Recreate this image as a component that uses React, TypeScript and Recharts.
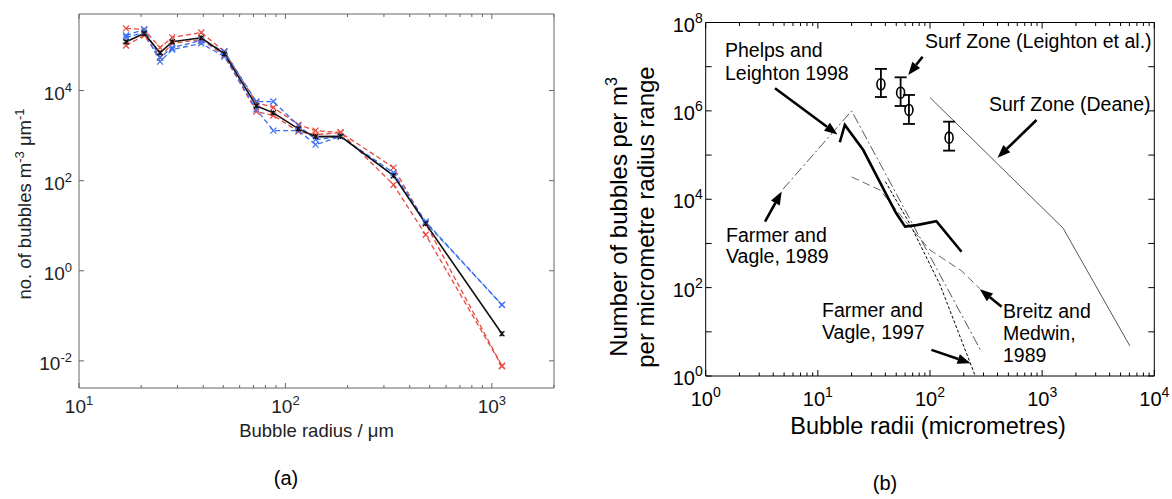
import { ComposedChart, LineChart, Line, Scatter, XAxis, YAxis, ErrorBar, ReferenceLine } from 'recharts';

const FONT = "'Liberation Sans', Arial, Helvetica, sans-serif";

// ---- (a) measured spectra ----
const radiusA = [16.9, 20.7, 24.7, 28.3, 39.1, 50.6, 72.3, 87.4, 115.6, 140, 185, 334, 478, 1119];
const meanA = [1.21e5, 1.85e5, 6.9e4, 1.21e5, 1.48e5, 6.5e4, 4.6e3, 3.2e3, 1.41e3, 950, 960, 129, 11.1, 0.04];
const redHi = [2.39e5, 2.27e5, 9.0e4, 1.51e5, 1.94e5, 7.36e4, 5.4e3, 4.2e3, 1.75e3, 1.29e3, 1.17e3, 195, 11.1, 0.0077];
const redLo = [1.0e5, 1.67e5, 5.4e4, 1.11e5, 1.36e5, 6.0e4, 3.4e3, 2.8e3, 1.23e3, 1.05e3, 1.17e3, 81, 6.3, 0.0077];
const blueHi = [1.67e5, 2.27e5, 5.4e4, 9.0e4, 1.29e5, 7.36e4, 5.7e3, 5.7e3, 1.67e3, 815, 950, 150, 12.3, 0.175];
const blueLo = [1.51e5, 1.94e5, 4.4e4, 8.15e4, 1.11e5, 5.7e4, 3.8e3, 1.29e3, 1.29e3, 630, 950, 129, 11.7, 0.175];

const xTicksA = [10, 20, 30, 40, 50, 60, 70, 80, 90, 100, 200, 300, 400, 500, 600, 700, 800, 900, 1000, 2000];
const yTicksA = [0.01, 1, 100, 10000];

// ---- (b) literature spectra ----
const fv89X = [4.9, 20, 280];
const fv89Y = [1.7e4, 1e6, 4];
const phelpsX = [15.7, 17.4, 25.4, 44, 50, 60, 76, 114, 191];
const phelpsY = [1.95e5, 4.8e5, 1.3e5, 8.8e3, 4.8e3, 2.4e3, 2.6e3, 3.2e3, 650];
const breitzX = [20, 36, 66, 100, 191, 278];
const breitzY = [3.2e4, 1.6e4, 2.4e3, 710, 240, 95];
const fv97X = [40, 66, 123, 251];
const fv97Y = [2.5e4, 2.8e3, 115, 1.06];
const deaneX = [100, 1540, 6050];
const deaneY = [2e6, 2.2e3, 4.8];
const leightonX = [36.5, 54.7, 64.9, 148];
const leightonY = [4.0e6, 2.58e6, 1.05e6, 2.48e5];
const leightonLo = [2.06e6, 1.29e6, 5.06e5, 1.26e5];
const leightonHi = [8.9e6, 5.75e6, 2.29e6, 5.7e5];

const xTicksB = [1, 2, 3, 4, 5, 6, 7, 8, 9, 10, 20, 30, 40, 50, 60, 70, 80, 90, 100, 200, 300, 400, 500, 600, 700, 800, 900,
  1000, 2000, 3000, 4000, 5000, 6000, 7000, 8000, 9000, 10000];
const yTicksB = [1, 10, 100, 1e3, 1e4, 1e5, 1e6, 1e7, 1e8];

// annotation arrows (data units): tail -> head
const arrowTails = [[4.15, 3.24e6], [85.9, 1.68e7], [891, 6.2e5], [3.38, 3.1e3], [103, 3.9], [435, 37]];
const arrowHeads = [[14.95, 2.92e5], [63.9, 6.49e6], [400, 8.7e4], [4.76, 1.49e4], [230, 1.95], [278, 92]];

const pts = (xs: number[], ys: number[]) => xs.map((x, i) => ({ x, y: ys[i] }));

type TickStyle = {
  side: 'bottom' | 'left' | 'top' | 'right';
  majorLen: number;
  minorLen: number;
  labels: boolean;
  every: number;
  font: number;
  sup: number;
  supDy: number;
  dx: number;
  dy: number;
  stroke: string;
  color: string;
};

const renderTick = (p: any, s: TickStyle) => {
  const { x, y, payload } = p;
  const v = payload.value as number;
  const lg = Math.log10(v);
  const e = Math.round(lg);
  const decade = Math.abs(lg - e) < 1e-6;
  const len = decade ? s.majorLen : s.minorLen;
  let x2 = x;
  let y2 = y;
  if (s.side === 'bottom') y2 = y - len;
  else if (s.side === 'top') y2 = y + len;
  else if (s.side === 'left') x2 = x + len;
  else x2 = x - len;
  const show = s.labels && decade && e % s.every === 0;
  return (
    <g>
      <line x1={x} y1={y} x2={x2} y2={y2} stroke={s.stroke} strokeWidth={1} />
      {show && (
        <text x={x + s.dx} y={y + s.dy} textAnchor={s.side === 'left' ? 'end' : 'middle'} fontSize={s.font}
          fontFamily={FONT} fill={s.color}>
          10<tspan dy={-s.supDy} fontSize={s.sup}>{e}</tspan>
        </text>
      )}
    </g>
  );
};

const crossDot = (color: string, r: number, star = false) => (p: any) => {
  const { cx, cy, index } = p;
  if (cx == null || cy == null) return <g key={index} />;
  let d = `M${cx - r},${cy - r}L${cx + r},${cy + r}M${cx - r},${cy + r}L${cx + r},${cy - r}`;
  if (star) d += `M${cx},${cy - r}L${cx},${cy + r}`;
  return <path key={index} d={d} stroke={color} strokeWidth={1.2} fill="none" />;
};

const arrowShape = (p: any) => {
  const { x1, y1, x2, y2 } = p;
  const a = Math.atan2(y2 - y1, x2 - x1);
  const L = 13;
  const W = 5;
  const bx = x2 - L * Math.cos(a);
  const by = y2 - L * Math.sin(a);
  const px = -Math.sin(a) * W;
  const py = Math.cos(a) * W;
  return (
    <g>
      <line x1={x1} y1={y1} x2={bx} y2={by} stroke="#000" strokeWidth={2.6} />
      <polygon points={`${x2},${y2} ${bx + px},${by + py} ${bx - px},${by - py}`} fill="#000" />
    </g>
  );
};

const AX_A = '#666';
const RED = '#e8493e';
const BLUE = '#3a6ef2';

function ChartA() {
  const base = { majorLen: 5, minorLen: 3, font: 19, sup: 13, supDy: 8, stroke: AX_A, color: '#222' };
  return (
    <LineChart width={600} height={499} margin={{ top: 13, right: 45, bottom: 71, left: 19 }}>
      <XAxis dataKey="x" type="number" scale="log" domain={[10, 2000]} allowDataOverflow ticks={xTicksA}
        interval={0} tickSize={0} tickMargin={0} height={40} axisLine={{ stroke: AX_A }} tickLine={false}
        tick={(p: any) => renderTick(p, { ...base, side: 'bottom', labels: true, every: 1, dx: 0, dy: 25 })} />
      <XAxis xAxisId="top" orientation="top" dataKey="x" type="number" scale="log" domain={[10, 2000]}
        allowDataOverflow ticks={xTicksA} interval={0} tickSize={0} tickMargin={0} height={1}
        axisLine={{ stroke: AX_A }} tickLine={false}
        tick={(p: any) => renderTick(p, { ...base, side: 'top', labels: false, every: 1, dx: 0, dy: 0 })} />
      <YAxis type="number" scale="log" domain={[0.0025, 5e5]} allowDataOverflow ticks={yTicksA} interval={0}
        tickSize={0} tickMargin={0} width={60} axisLine={{ stroke: AX_A }} tickLine={false}
        tick={(p: any) => renderTick(p, { ...base, side: 'left', labels: true, every: 1, dx: -7, dy: 9 })} />
      <YAxis yAxisId="right" orientation="right" type="number" scale="log" domain={[0.0025, 5e5]}
        allowDataOverflow ticks={yTicksA} interval={0} tickSize={0} tickMargin={0} width={1}
        axisLine={{ stroke: AX_A }} tickLine={false}
        tick={(p: any) => renderTick(p, { ...base, side: 'right', labels: false, every: 1, dx: 0, dy: 0 })} />
      <Line data={pts(radiusA, redHi)} dataKey="y" stroke={RED} strokeWidth={1.3} strokeDasharray="5 3"
        dot={crossDot(RED, 3)} isAnimationActive={false} />
      <Line data={pts(radiusA, redLo)} dataKey="y" stroke={RED} strokeWidth={1.3} strokeDasharray="5 3"
        dot={crossDot(RED, 3)} isAnimationActive={false} />
      <Line data={pts(radiusA, blueHi)} dataKey="y" stroke={BLUE} strokeWidth={1.3} strokeDasharray="5 3"
        dot={crossDot(BLUE, 3)} isAnimationActive={false} />
      <Line data={pts(radiusA, blueLo)} dataKey="y" stroke={BLUE} strokeWidth={1.3} strokeDasharray="5 3"
        dot={crossDot(BLUE, 3)} isAnimationActive={false} />
      <Line data={pts(radiusA, meanA)} dataKey="y" stroke="#111" strokeWidth={1.6} dot={crossDot('#111', 2.5, true)}
        isAnimationActive={false} />
    </LineChart>
  );
}

function ChartB() {
  const base = { majorLen: 6, minorLen: 3.5, font: 20, sup: 14, supDy: 9, stroke: '#000', color: '#000' };
  const leighton = leightonX.map((x, i) => ({
    x,
    y: leightonY[i],
    err: [leightonY[i] - leightonLo[i], leightonHi[i] - leightonY[i]],
  }));
  return (
    <ComposedChart width={572} height={499} margin={{ top: 21.5, right: 16.7, bottom: 83, left: 25.7 }}>
      <XAxis dataKey="x" type="number" scale="log" domain={[1, 10000]} allowDataOverflow ticks={xTicksB}
        interval={0} tickSize={0} tickMargin={0} height={40} axisLine={{ stroke: '#000' }} tickLine={false}
        tick={(p: any) => renderTick(p, { ...base, side: 'bottom', labels: true, every: 1, dx: 0, dy: 30 })} />
      <XAxis xAxisId="top" orientation="top" dataKey="x" type="number" scale="log" domain={[1, 10000]}
        allowDataOverflow ticks={xTicksB} interval={0} tickSize={0} tickMargin={0} height={1}
        axisLine={{ stroke: '#000' }} tickLine={false}
        tick={(p: any) => renderTick(p, { ...base, side: 'top', labels: false, every: 1, dx: 0, dy: 0 })} />
      <YAxis type="number" scale="log" domain={[1, 1e8]} allowDataOverflow ticks={yTicksB} interval={0}
        tickSize={0} tickMargin={0} width={80} axisLine={{ stroke: '#000' }} tickLine={false}
        tick={(p: any) => renderTick(p, { ...base, side: 'left', labels: true, every: 2, dx: -3, dy: 9 })} />
      <YAxis yAxisId="right" orientation="right" type="number" scale="log" domain={[1, 1e8]} allowDataOverflow
        ticks={yTicksB} interval={0} tickSize={0} tickMargin={0} width={1} axisLine={{ stroke: '#000' }}
        tickLine={false}
        tick={(p: any) => renderTick(p, { ...base, side: 'right', labels: false, every: 1, dx: 0, dy: 0 })} />
      <Line data={pts(fv89X, fv89Y)} dataKey="y" stroke="#555" strokeWidth={1} strokeDasharray="10 3 2 3"
        dot={false} isAnimationActive={false} />
      <Line data={pts(breitzX, breitzY)} dataKey="y" stroke="#666" strokeWidth={1} strokeDasharray="8 4"
        dot={false} isAnimationActive={false} />
      <Line data={pts(fv97X, fv97Y)} dataKey="y" stroke="#000" strokeWidth={1} strokeDasharray="3 2"
        dot={false} isAnimationActive={false} />
      <Line data={pts(deaneX, deaneY)} dataKey="y" stroke="#555" strokeWidth={1} dot={false}
        isAnimationActive={false} />
      <Line data={pts(phelpsX, phelpsY)} dataKey="y" stroke="#000" strokeWidth={2.6} dot={false}
        isAnimationActive={false} />
      <Scatter data={leighton} dataKey="y" isAnimationActive={false}
        shape={(p: any) => <ellipse cx={p.cx} cy={p.cy} rx={4} ry={5.5} fill="none" stroke="#000" strokeWidth={1.6} />}>
        <ErrorBar dataKey="err" direction="y" width={6} stroke="#000" strokeWidth={1.8} isAnimationActive={false} />
      </Scatter>
      {arrowTails.map((t, i) => (
        <ReferenceLine key={i} segment={[{ x: t[0], y: t[1] }, { x: arrowHeads[i][0], y: arrowHeads[i][1] }]}
          ifOverflow="visible" shape={arrowShape} />
      ))}
    </ComposedChart>
  );
}

export default function App() {
  const t = { fontFamily: FONT, fill: '#000' };
  return (
    <div style={{ position: 'absolute', left: 0, top: 0, width: 1172, height: 499, background: '#fff' }}>
      <div style={{ position: 'absolute', left: 0, top: 0 }}>
        <ChartA />
      </div>
      <div style={{ position: 'absolute', left: 600, top: 0 }}>
        <ChartB />
      </div>
      <svg width={1172} height={499} style={{ position: 'absolute', left: 0, top: 0, pointerEvents: 'none' }}>
        {/* (a) titles */}
        <text x={316.5} y={437} fontSize={18.5} textAnchor="middle" {...t} fill="#222">Bubble radius / μm</text>
        <text x={31} y={204} fontSize={18.5} textAnchor="middle" transform="rotate(-90 31 204)" {...t} fill="#222">
          no. of bubbles m<tspan dy={-7} fontSize={13}>-3</tspan>
          <tspan dy={7}> μm</tspan>
          <tspan dy={-7} fontSize={13}>-1</tspan>
        </text>
        <text x={286} y={485} fontSize={20} textAnchor="middle" {...t}>(a)</text>

        {/* (b) titles */}
        <text x={928} y={434} fontSize={23.5} textAnchor="middle" {...t}>Bubble radii (micrometres)</text>
        <text x={627} y={217} fontSize={24} textAnchor="middle" transform="rotate(-90 627 217)" {...t}>
          Number of bubbles per m<tspan dy={-10} fontSize={16}>3</tspan>
        </text>
        <text x={654} y={217} fontSize={24} textAnchor="middle" transform="rotate(-90 654 217)" {...t}>
          per micrometre radius range
        </text>
        <text x={885} y={490} fontSize={20} textAnchor="middle" {...t}>(b)</text>

        {/* (b) annotations */}
        <g fontSize={19.5} {...t}>
          <text x={725} y={57}>Phelps and</text>
          <text x={725} y={80}>Leighton 1998</text>
          <text x={925} y={48}>Surf Zone (Leighton et al.)</text>
          <text x={989} y={111}>Surf Zone (Deane)</text>
          <text x={726} y={242}>Farmer and</text>
          <text x={726} y={263}>Vagle, 1989</text>
          <text x={822} y={317}>Farmer and</text>
          <text x={822} y={339}>Vagle, 1997</text>
          <text x={1003} y={318}>Breitz and</text>
          <text x={1003} y={340}>Medwin,</text>
          <text x={1003} y={362}>1989</text>
        </g>
      </svg>
    </div>
  );
}
